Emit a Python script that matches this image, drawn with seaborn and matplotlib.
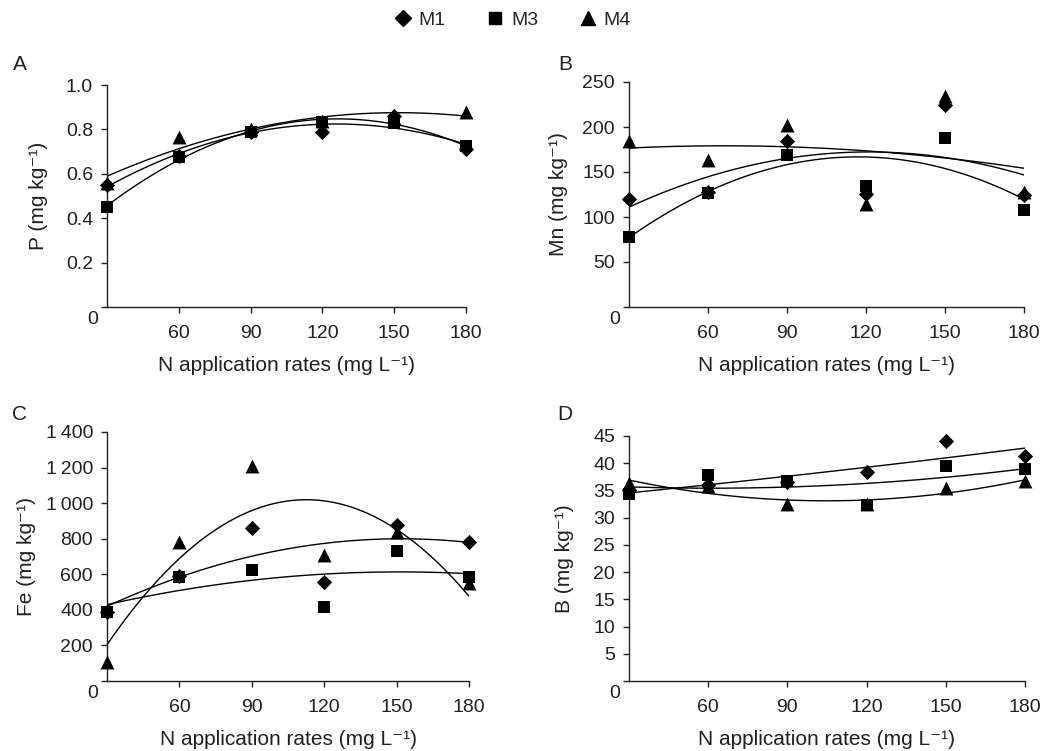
import numpy as np
import pandas as pd
import matplotlib
matplotlib.use("Agg")
import matplotlib.pyplot as plt
import seaborn as sns
from matplotlib.lines import Line2D
from matplotlib.transforms import ScaledTranslation

sns.set_theme(style="ticks")
plt.rcParams['font.family'] = ['Liberation Sans', 'DejaVu Sans']

# ---------------- data ----------------
n_rates = [30, 60, 90, 120, 150, 180]
series = ["M1", "M3", "M4"]

p_m1 = [0.55, 0.68, 0.79, 0.79, 0.86, 0.71]
p_m3 = [0.45, 0.675, 0.79, 0.835, 0.83, 0.725]
p_m4 = [0.56, 0.765, 0.80, 0.84, 0.85, 0.88]

mn_m1 = [120, 128, 184, 126, 224, 124]
mn_m3 = [78, 127, 169, 134, 188, 108]
mn_m4 = [185, 163, 202, 114, 235, 128]

fe_m1 = [390, 590, 860, 559, 878, 781]
fe_m3 = [387, 582, 625, 415, 732, 582]
fe_m4 = [105, 779, 1210, 709, 840, 550]

b_m1 = [35.0, 36.0, 36.5, 38.3, 44.1, 41.3]
b_m3 = [34.3, 37.8, 36.7, 32.3, 39.4, 38.9]
b_m4 = [36.4, 35.8, 32.5, 32.5, 35.4, 36.7]

x_ticks = [60, 90, 120, 150, 180]

panels = [
    dict(letter="A", ylabel="P (mg kg\u207b\u00b9)", data=[p_m1, p_m3, p_m4],
         ylim=(0, 1.0), yticks=[0, 0.2, 0.4, 0.6, 0.8, 1.0],
         ylabels=["0", "0.2", "0.4", "0.6", "0.8", "1.0"]),
    dict(letter="B", ylabel="Mn (mg kg\u207b\u00b9)", data=[mn_m1, mn_m3, mn_m4],
         ylim=(0, 250), yticks=[0, 50, 100, 150, 200, 250],
         ylabels=["0", "50", "100", "150", "200", "250"]),
    dict(letter="C", ylabel="Fe (mg kg\u207b\u00b9)", data=[fe_m1, fe_m3, fe_m4],
         ylim=(0, 1400), yticks=[0, 200, 400, 600, 800, 1000, 1200, 1400],
         ylabels=["0", "200", "400", "600", "800", "1\u2009000", "1\u2009200", "1\u2009400"]),
    dict(letter="D", ylabel="B (mg kg\u207b\u00b9)", data=[b_m1, b_m3, b_m4],
         ylim=(0, 45), yticks=[0, 5, 10, 15, 20, 25, 30, 35, 40, 45],
         ylabels=["0", "5", "10", "15", "20", "25", "30", "35", "40", "45"]),
]

W, H = 1043, 751
fig = plt.figure(figsize=(W / 100, H / 100), dpi=100)

# axes boxes in pixels: left, right, top, bottom
boxes = [(107, 466, 85, 307), (629, 1024, 82, 307),
         (107, 469, 432, 681), (629, 1025, 436, 681)]
letter_pos = [(13, 65), (558, 65), (12, 415), (557, 415)]
ylabel_x = [38, 558, 27, 565]

markers = {"M1": "D", "M3": "s", "M4": "^"}
sizes = {"M1": 60, "M3": 85, "M4": 100}
FS = 14
LFS = 15
TXT = "#231f20"

for pan, (l, r, t, b), (lx, ly), yx in zip(panels, boxes, letter_pos, ylabel_x):
    ax = fig.add_axes([l / W, (H - b) / H, (r - l) / W, (b - t) / H])
    rows = []
    for name, vals in zip(series, pan["data"]):
        for xv, yv in zip(n_rates, vals):
            rows.append(dict(N=xv, value=yv, series=name))
    df = pd.DataFrame(rows)
    # quadratic trend lines
    xs = np.linspace(min(n_rates), max(n_rates), 200)
    for name, vals in zip(series, pan["data"]):
        coef = np.polyfit(n_rates, vals, 2)
        fit = pd.DataFrame(dict(N=xs, value=np.polyval(coef, xs)))
        sns.lineplot(data=fit, x="N", y="value", ax=ax, color="black",
                     linewidth=1.0, zorder=2)
    for name in series:
        sub = df[df.series == name]
        sns.scatterplot(data=sub, x="N", y="value", ax=ax, marker=markers[name],
                        s=sizes[name], color="black", edgecolor="black",
                        linewidth=0, zorder=3, clip_on=False, legend=False)
    ax.set_xlim(30, 180)
    ax.set_ylim(*pan["ylim"])
    ax.set_xticks(x_ticks)
    ax.set_xticklabels([str(v) for v in x_ticks], fontsize=FS, color=TXT)
    ax.set_yticks(pan["yticks"])
    ax.set_yticklabels(pan["ylabels"], fontsize=FS, color=TXT)
    ax.tick_params(axis="both", direction="out", length=4.5, width=1, color=TXT)
    ax.tick_params(axis="x", pad=8.5)
    ax.tick_params(axis="y", pad=5.5)
    for s in ["top", "right"]:
        ax.spines[s].set_visible(False)
    for s in ["left", "bottom"]:
        ax.spines[s].set_linewidth(1.0)
        ax.spines[s].set_color(TXT)
    ax.set_xlabel("N application rates (mg L\u207b\u00b9)", fontsize=LFS, color=TXT, labelpad=10)
    ax.set_ylabel(pan["ylabel"], fontsize=LFS, color=TXT, va="center")
    ax.yaxis.set_label_coords((yx - l) / (r - l), 0.5)
    # shift the "0" label down like in the original
    lab0 = ax.get_yticklabels()[0]
    lab0.set_transform(lab0.get_transform() + ScaledTranslation(0.05, -0.11, fig.dpi_scale_trans))
    fig.text(lx / W, 1 - ly / H, pan["letter"], fontsize=15, color=TXT,
             ha="left", va="center")

handles = [Line2D([], [], linestyle="none", marker=markers[n], color="black",
                  markersize=(8 if n == "M1" else 9 if n == "M3" else 10)) for n in series]
fig.legend(handles, series, loc="center", bbox_to_anchor=(512 / W, 1 - 20 / H), ncol=3,
           frameon=False, handletextpad=0.3, columnspacing=2.05,
           handlelength=1.0, prop={"size": FS})

fig.savefig("out.png", dpi=100, facecolor="white")
